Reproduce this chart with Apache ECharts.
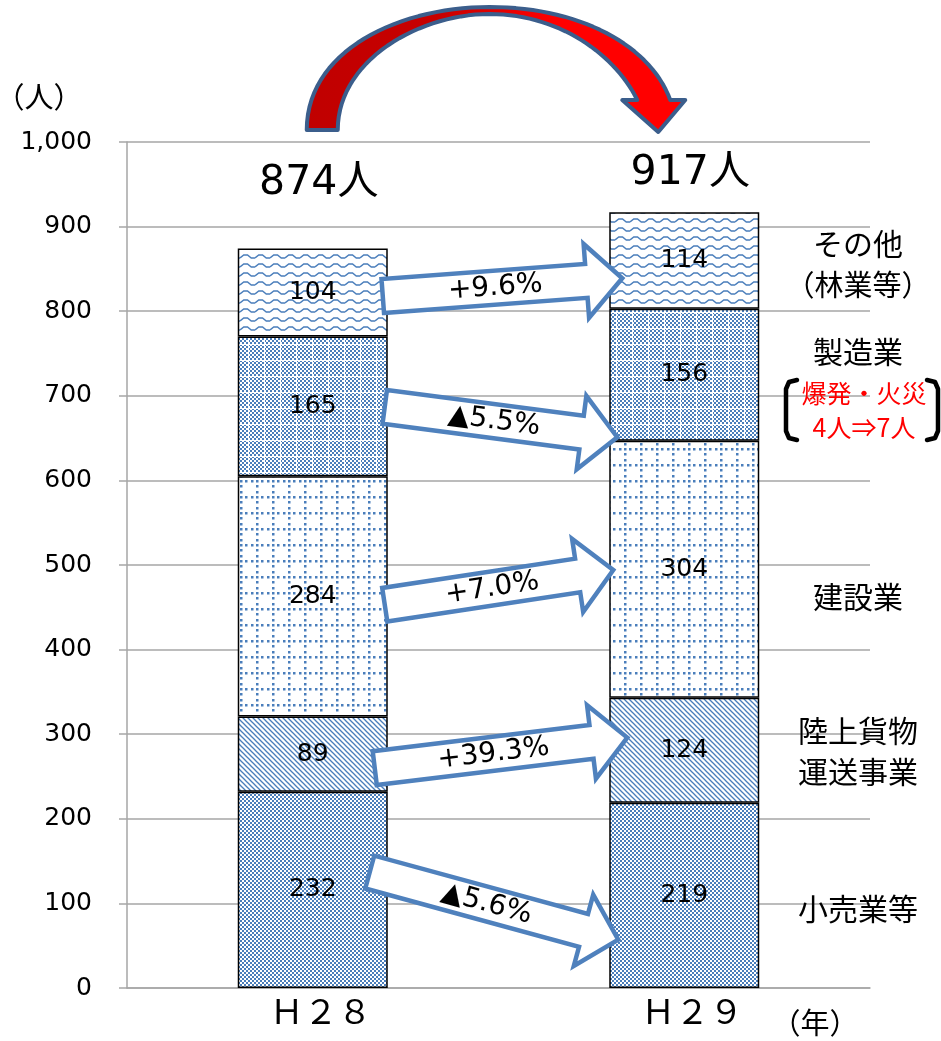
<!DOCTYPE html>
<html><head><meta charset="utf-8">
<script src="https://cdn.jsdelivr.net/npm/echarts@6/dist/echarts.min.js"></script>
<style>html,body{margin:0;padding:0;background:#fff}#c{width:941px;height:1041px}</style>
</head><body><div id="c"></div>
<script>
// ---- data ----
const categories = ['Ｈ２８', 'Ｈ２９'];
const seriesNames = ['小売業等', '陸上貨物運送事業', '建設業', '製造業', 'その他（林業等）'];
const retail = [232, 219];
const freight = [89, 124];
const construction = [284, 304];
const manufacturing = [165, 156];
const other = [104, 114];
const totals = [874, 917];
const changes = ['▲5.6%', '+39.3%', '+7.0%', '▲5.5%', '+9.6%'];
const yMin = 0, yMax = 1000, yInterval = 100;

// ---- patterns ----
const BLUE = '#4A7EBB';
function tile(w, h, draw) {
  const c = document.createElement('canvas'); c.width = w; c.height = h;
  const g = c.getContext('2d'); g.fillStyle = '#fff'; g.fillRect(0, 0, w, h);
  g.fillStyle = BLUE; g.strokeStyle = BLUE; draw(g); return c;
}
const pChecker = tile(4, 4, g => { g.fillRect(0, 0, 2, 2); g.fillRect(2, 2, 2, 2); });
const pCheckerGrid = tile(16, 16, g => {
  for (let x = 0; x < 16; x += 2) for (let y = 0; y < 16; y += 2) if (((x + y) / 2) % 2 === 0) g.fillRect(x, y, 2, 2);
  g.fillStyle = '#fff';
  for (let y = 0; y < 16; y += 4) g.fillRect(8, y, 1, 2);
  for (let x = 0; x < 16; x += 4) g.fillRect(x, 8, 2, 1);
});
const pDotGrid = tile(16, 16, g => {
  [0, 5, 11].forEach(p => { g.fillRect(p, 0, 2.5, 2.5); if (p > 0) g.fillRect(0, p, 2.5, 2.5); });
});
const pDiag = tile(5, 5, g => {
  g.lineWidth = 1.3;
  [-5, 0, 5].forEach(o => { g.beginPath(); g.moveTo(o - 1, -1); g.lineTo(o + 6, 6); g.stroke(); });
});
const pWave = tile(15, 9, g => {
  g.lineWidth = 1.5; g.beginPath();
  const pts = [[0, 6], [3.75, 3], [7.5, 3], [11.25, 6], [15, 6]];
  pts.forEach((p, i) => i ? g.lineTo(p[0], p[1]) : g.moveTo(p[0], p[1]));
  g.stroke();
});
const patterns = [pChecker, pDiag, pDotGrid, pCheckerGrid, pWave];
const valueSets = [retail, freight, construction, manufacturing, other];

const FONT = '"Noto Sans CJK JP", "Noto Sans", sans-serif';
const NUMFONT = '"DejaVu Sans", "Noto Sans CJK JP", sans-serif';
const chart = echarts.init(document.getElementById('c'), null, { renderer: 'canvas' });
const BAR_W = 150;

chart.setOption({
  animation: false,
  backgroundColor: '#fff',
  grid: { left: 127, right: 71, top: 142, bottom: 53 },
  xAxis: {
    type: 'category', data: categories,
    axisLine: { lineStyle: { color: '#A6A6A6', width: 1.5 } },
    axisTick: { show: false },
    axisLabel: { color: '#000', fontSize: 34, fontFamily: FONT, margin: 6, padding: [0, 0, 0, 16] }
  },
  yAxis: {
    type: 'value', min: yMin, max: yMax, interval: yInterval,
    axisLine: { show: true, lineStyle: { color: '#A6A6A6', width: 1.5 } },
    axisTick: { show: true, length: 8, lineStyle: { color: '#A6A6A6', width: 1.5 } },
    splitLine: { lineStyle: { color: '#A6A6A6', width: 1.5 } },
    axisLabel: { color: '#000', fontSize: 25, fontFamily: NUMFONT, margin: 35 }
  },
  series: valueSets.map((vals, i) => ({
    name: seriesNames[i], type: 'bar', stack: 'total', barWidth: BAR_W,
    data: vals,
    itemStyle: { color: { image: patterns[i], repeat: 'repeat' }, borderColor: '#000', borderWidth: 1.5 },
    label: { show: true, position: 'inside', color: '#000', fontSize: 25, fontFamily: NUMFONT }
  }))
});

// ---- annotations (anchored through the chart's own scales) ----
const px = (ci, v) => chart.convertToPixel({ gridIndex: 0 }, [ci, v]);
const c0 = px(0, 0)[0], c1 = px(1, 0)[0];
const leftRight = c0 + BAR_W / 2, rightLeft = c1 - BAR_W / 2;
const TXT = { align: 'center', verticalAlign: 'middle', textAlign: 'center', textVerticalAlign: 'middle' };

// block arrows: value at tail (H28 side) and tip (H29 side), insets in px
const arrowGeom = [
  { from: 137, to: 57, tailIn: 18, tipIn: 9 },
  { from: 260, to: 296, tailIn: 13, tipIn: 18 },
  { from: 453, to: 494, tailIn: 3, tipIn: 4 },
  { from: 687, to: 651, tailIn: 3, tipIn: 8 },
  { from: 818, to: 839, tailIn: 5, tipIn: 13 }
];
const graphics = [];
arrowGeom.forEach((a, i) => {
  const x0 = leftRight - a.tailIn, y0 = px(0, a.from)[1];
  const x1 = rightLeft + a.tipIn, y1 = px(1, a.to)[1];
  const dx = x1 - x0, dy = y1 - y0, L = Math.hypot(dx, dy);
  const ux = dx / L, uy = dy / L, nx = -uy, ny = ux;
  const w = 17, H = 37, h = 36;
  const bx = x1 - ux * h, by = y1 - uy * h;
  const pts = [
    [x0 + nx * w, y0 + ny * w], [bx + nx * w, by + ny * w], [bx + nx * H, by + ny * H], [x1, y1],
    [bx - nx * H, by - ny * H], [bx - nx * w, by - ny * w], [x0 - nx * w, y0 - ny * w]
  ];
  graphics.push({ type: 'polygon', z: 100, shape: { points: pts },
    style: { fill: '#fff', stroke: '#4F81BD', lineWidth: 4.5, lineJoin: 'miter' } });
  const t = 0.47;
  graphics.push({ type: 'text', z: 101, x: x0 + dx * t, y: y0 + dy * t, rotation: -Math.atan2(dy, dx),
    style: Object.assign({ text: changes[i], fontSize: 28, fontFamily: NUMFONT, fill: '#000' }, TXT) });
});

// totals above bars
const totalAt = [951, 963];
totals.forEach((t, i) => {
  const p = px(i, totalAt[i]);
  graphics.push({ type: 'text', z: 101, x: p[0] + 6, y: p[1],
    style: Object.assign({ text: t + '人', fontSize: 41, fontFamily: NUMFONT, fill: '#000' }, TXT) });
});

// curved red arrow (sampled cubic beziers)
function bez(p0, p1, p2, p3, n) {
  const out = [];
  for (let k = 0; k <= n; k++) {
    const t = k / n, u = 1 - t;
    out.push([u*u*u*p0[0] + 3*u*u*t*p1[0] + 3*u*t*t*p2[0] + t*t*t*p3[0],
              u*u*u*p0[1] + 3*u*u*t*p1[1] + 3*u*t*t*p2[1] + t*t*t*p3[1]]);
  }
  return out;
}
const lo = c0 - 6, li = c0 + 25, tip = c1 - 26;
const topX = (c0 + c1) / 2 - 9;
let arc = [];
arc = arc.concat(bez([lo, 130], [lo, 50], [topX - 90, 7], [topX, 7], 30));
arc = arc.concat(bez([topX, 7], [topX + 90, 7], [tip - 8, 45], [tip + 12, 100], 30).slice(1));
arc.push([tip + 27, 100], [tip, 132], [tip - 36, 100], [tip - 21, 100]);
arc = arc.concat(bez([tip - 21, 100], [tip - 43, 55], [topX + 70, 14], [topX, 14], 30).slice(1));
arc = arc.concat(bez([topX, 14], [topX - 70, 14], [li, 60], [li, 130], 30).slice(1));
graphics.push({ type: 'polygon', z: 100, shape: { points: arc },
  style: { fill: { type: 'linear', x: 0, y: 0, x2: 1, y2: 0, colorStops: [
    { offset: 0, color: '#C00000' }, { offset: 0.35, color: '#C80000' }, { offset: 0.65, color: '#FF0000' }, { offset: 1, color: '#FF0000' }] },
    stroke: '#3B5E8C', lineWidth: 4, lineJoin: 'round' } });

// side labels
const side = [
  { t: 'その他', y: 244, c: '#000', s: 30 },
  { t: '（林業等）', y: 285, c: '#000', s: 29 },
  { t: '製造業', y: 352, c: '#000', s: 30 },
  { t: '爆発・火災', y: 393, c: '#FF0000', s: 25, x: 864 },
  { t: '4人⇒7人', y: 427, c: '#FF0000', s: 25, x: 864 },
  { t: '建設業', y: 597, c: '#000', s: 30 },
  { t: '陸上貨物', y: 731, c: '#000', s: 30 },
  { t: '運送事業', y: 772, c: '#000', s: 30 },
  { t: '小売業等', y: 909, c: '#000', s: 30 }
];
side.forEach(s => graphics.push({ type: 'text', z: 101, x: s.x || 858, y: s.y,
  style: Object.assign({ text: s.t, fontSize: s.s, fontFamily: FONT, fill: s.c }, TXT) }));
graphics.push({ type: 'polyline', z: 101, shape: { points: [[797, 380], [789, 382], [786, 389], [786, 431], [789, 438], [797, 440]] },
  style: { stroke: '#000', lineWidth: 4.5, fill: null, lineCap: 'round', lineJoin: 'round' } });
graphics.push({ type: 'polyline', z: 101, shape: { points: [[927, 380], [935, 382], [938, 389], [938, 431], [935, 438], [927, 440]] },
  style: { stroke: '#000', lineWidth: 4.5, fill: null, lineCap: 'round', lineJoin: 'round' } });

// axis unit labels
graphics.push({ type: 'text', z: 101, x: 39, y: 97,
  style: Object.assign({ text: '（人）', fontSize: 29, fontFamily: FONT, fill: '#000' }, TXT) });
graphics.push({ type: 'text', z: 101, x: 815, y: 1023,
  style: Object.assign({ text: '（年）', fontSize: 29, fontFamily: FONT, fill: '#000' }, TXT) });

chart.setOption({ graphic: graphics });
</script></body></html>
